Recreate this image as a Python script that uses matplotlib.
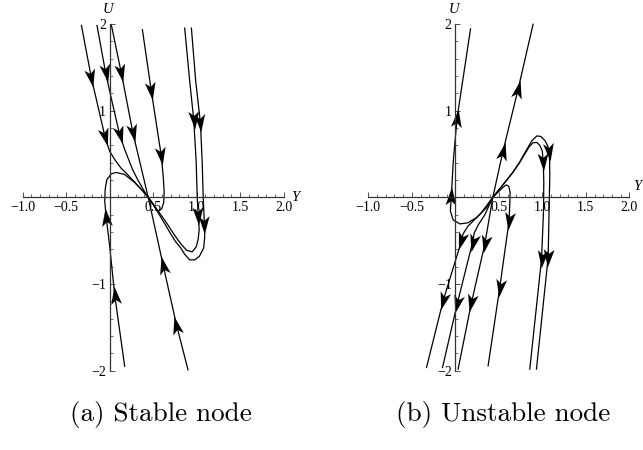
import numpy as np
import matplotlib
matplotlib.use("Agg")
import matplotlib.pyplot as plt
from matplotlib.markers import MarkerStyle
from matplotlib.path import Path
from matplotlib.transforms import Affine2D

# ---------------- (a) Stable node : trajectories (Y, U) ----------------
a1_x = [-0.325, -0.210, -0.132, -0.052, 0.000, 0.072, 0.130, 0.207, 0.310, 0.379, 0.443]
a1_y = [1.984, 1.376, 1.038, 0.692, 0.531, 0.415, 0.338, 0.262, 0.150, 0.075, 0.0]
a1_arr = [1, 3]

a2_x = [-0.146, -0.046, 0.034, 0.115, 0.172, 0.226, 0.264, 0.322, 0.399, 0.443]
a2_y = [1.984, 1.434, 1.073, 0.723, 0.554, 0.415, 0.319, 0.204, 0.069, 0.0]
a2_arr = [1, 3]

a3_x = [0.020, 0.134, 0.268, 0.443]
a3_y = [1.984, 1.434, 0.738, 0.0]
a3_arr = [1, 2]

a4_x = [0.900, 0.767, 0.613, 0.443]
a4_y = [-1.99, -1.468, -0.776, 0.0]
a4_arr = [1, 2]

a5_x = [0.376, 0.479, 0.594, 0.615, 0.626, 0.621, 0.598, 0.557, 0.520, 0.490, 0.443]
a5_y = [1.934, 1.223, 0.473, 0.242, 0.069, -0.058, -0.133, -0.160, -0.112, -0.066, 0.0]
a5_arr = [1, 2]

a6_x = [0.862, 0.920, 0.966, 0.994, 1.006, 1.017, 1.029, 1.017, 0.994, 0.948, 0.885,
        0.828, 0.782, 0.724, 0.667, 0.609, 0.552, 0.494, 0.443]
a6_y = [1.953, 1.338, 0.896, 0.415, 0.0, -0.219, -0.369, -0.484, -0.571, -0.629, -0.611,
        -0.548, -0.488, -0.404, -0.315, -0.231, -0.150, -0.069, 0.0]
a6_arr = [2, 5]

a7_x = [0.939, 0.989, 1.043, 1.063, 1.075, 1.089, 1.092, 1.080, 1.031, 0.977, 0.920,
        0.862, 0.816, 0.759, 0.701, 0.644, 0.575, 0.506, 0.443]
a7_y = [1.953, 1.338, 0.857, 0.415, 0.0, -0.315, -0.461, -0.585, -0.680, -0.721, -0.721,
        -0.657, -0.582, -0.513, -0.421, -0.323, -0.208, -0.092, 0.0]
a7_arr = [2, 5]

a8_x = [0.172, 0.057, 0.000, -0.040, -0.057, -0.052, -0.034, 0.015, 0.072, 0.169, 0.284, 0.379, 0.443]
a8_y = [-1.949, -1.122, -0.565, -0.231, -0.046, 0.092, 0.202, 0.269, 0.288, 0.265, 0.175, 0.074, 0.0]
a8_arr = [1, 3]

# ---------------- (b) Unstable node ----------------
b1_x = [0.431, 0.359, 0.247, 0.144, 0.052, -0.025, -0.057, -0.046, -0.023, 0.021, 0.175]
b1_y = [0.0, -0.118, -0.231, -0.294, -0.306, -0.260, -0.156, 0.017, 0.421, 0.920, 1.944]
b1_arr = [7, 9]

b2_x = [0.431, 0.293, 0.144, 0.090, 0.071, -0.140, -0.331]
b2_y = [0.0, -0.185, -0.334, -0.421, -0.502, -1.194, -1.963]
b2_arr = [4, 5]

b3_x = [0.431, 0.339, 0.264, 0.218, 0.198, 0.021, -0.147]
b3_y = [0.0, -0.202, -0.317, -0.409, -0.521, -1.232, -1.963]
b3_arr = [4, 5]

b4_x = [0.431, 0.339, 0.186, 0.032]
b4_y = [0.0, -0.540, -1.213, -1.982]
b4_arr = [1, 2]

b5_x = [0.431, 0.549, 0.722, 0.894]
b5_y = [0.0, 0.536, 1.248, 1.998]
b5_arr = [1, 2]

b6_x = [0.431, 0.489, 0.546, 0.586, 0.615, 0.630, 0.626, 0.618, 0.511, 0.377]
b6_y = [0.0, 0.058, 0.115, 0.144, 0.127, 0.052, -0.075, -0.271, -1.040, -1.944]
b6_arr = [7, 8]

b7_x = [0.431, 0.500, 0.580, 0.661, 0.741, 0.822, 0.879, 0.937, 0.983, 1.029, 1.063,
        1.077, 1.084, 1.086, 1.080, 1.067, 0.933]
b7_y = [0.0, 0.087, 0.185, 0.288, 0.410, 0.554, 0.652, 0.709, 0.703, 0.657, 0.594,
        0.525, 0.421, 0.248, -0.040, -0.694, -1.981]
b7_arr = [11, 15]

b8_x = [0.431, 0.500, 0.580, 0.661, 0.730, 0.793, 0.845, 0.891, 0.937, 0.971, 1.000,
        1.011, 1.017, 1.014, 0.991, 0.856]
b8_y = [0.0, 0.087, 0.185, 0.288, 0.386, 0.490, 0.577, 0.629, 0.634, 0.600, 0.536,
        0.409, 0.190, -0.156, -0.713, -1.982]
b8_arr = [11, 14]

x_ticks = [-1.0, -0.5, 0.5, 1.0, 1.5, 2.0]
x_ticklabels = ["\u22121.0", "\u22120.5", "0.5", "1.0", "1.5", "2.0"]
y_ticks = [-2, -1, 1, 2]
y_ticklabels = ["\u22122", "\u22121", "1", "2"]
captions = ["(a) Stable node", "(b) Unstable node"]

curves_a = [(a1_x, a1_y, a1_arr), (a2_x, a2_y, a2_arr), (a3_x, a3_y, a3_arr),
            (a4_x, a4_y, a4_arr), (a5_x, a5_y, a5_arr), (a6_x, a6_y, a6_arr),
            (a7_x, a7_y, a7_arr), (a8_x, a8_y, a8_arr)]
curves_b = [(b1_x, b1_y, b1_arr), (b2_x, b2_y, b2_arr), (b3_x, b3_y, b3_arr),
            (b4_x, b4_y, b4_arr), (b5_x, b5_y, b5_arr), (b6_x, b6_y, b6_arr),
            (b7_x, b7_y, b7_arr), (b8_x, b8_y, b8_arr)]

serif = "Liberation Serif"
fig = plt.figure(figsize=(6.43, 4.5), dpi=100)

head = Path([(1.0, 0.0), (-1.0, 0.6), (-0.5, 0.0), (-1.0, -0.6), (1.0, 0.0)],
            [Path.MOVETO, Path.LINETO, Path.LINETO, Path.LINETO, Path.CLOSEPOLY])


def setup(ax):
    ax.set_xlim(-1.0, 2.0)
    ax.set_ylim(-2.0, 2.0)
    ax.patch.set_alpha(0)
    for s in ("top", "right"):
        ax.spines[s].set_visible(False)
    ax.spines["left"].set_position(("data", 0))
    ax.spines["bottom"].set_position(("data", 0))
    for s in ("left", "bottom"):
        ax.spines[s].set_linewidth(0.9)
        ax.spines[s].set_color("#333333")
    ax.xaxis.set_ticks_position("bottom")
    ax.yaxis.set_ticks_position("left")
    ax.set_xticks(x_ticks)
    ax.set_xticklabels(x_ticklabels)
    ax.set_yticks(y_ticks)
    ax.set_yticklabels(y_ticklabels)
    ax.set_xticks(np.arange(-1.0, 2.001, 0.1), minor=True)
    ax.set_yticks(np.arange(-2.0, 2.001, 0.2), minor=True)
    ax.tick_params(which="major", direction="in", length=3.5, width=0.6, pad=2.5,
                   labelsize=10, color="#333333")
    ax.tick_params(which="minor", direction="in", length=2.0, width=0.5, color="#333333")
    for lab in ax.get_xticklabels() + ax.get_yticklabels():
        lab.set_fontfamily(serif)


def draw(ax, curves):
    for xs, ys, arr in curves:
        ax.plot(xs, ys, color="black", lw=0.9, clip_on=False, solid_joinstyle="round")
        for i in arr:
            p = ax.transData.transform([[xs[i - 1], ys[i - 1]], [xs[i + 1], ys[i + 1]]])
            ang = np.degrees(np.arctan2(p[1, 1] - p[0, 1], p[1, 0] - p[0, 0]))
            m = MarkerStyle(head, transform=Affine2D().rotate_deg(ang))
            ax.plot([xs[i]], [ys[i]], marker=m, markersize=13, color="black",
                    markeredgewidth=0, linestyle="none", clip_on=False)


rects = [[0.0353, 0.1762, 0.4059, 0.7704], [0.5728, 0.1762, 0.4059, 0.7704]]
ylab_pos = [(2.13, 0.0), (2.095, 0.12)]
for k, (rect, curves) in enumerate(zip(rects, [curves_a, curves_b])):
    ax = fig.add_axes(rect)
    setup(ax)
    draw(ax, curves)
    ax.text(-0.02, 2.17, "U", fontfamily=serif, fontstyle="italic", fontsize=10.5,
            ha="center", va="center", clip_on=False)
    ax.text(ylab_pos[k][0], ylab_pos[k][1], "Y", fontfamily=serif, fontstyle="italic",
            fontsize=10.5, ha="center", va="center", clip_on=False)

fig.text(161 / 643, 1 - 415 / 450, captions[0], family="cmr10", fontsize=19.5,
         ha="center", va="center")
fig.text(503 / 643, 1 - 415 / 450, captions[1], family="cmr10", fontsize=19.5,
         ha="center", va="center")

fig.savefig("out.png", dpi=100, facecolor="white")
